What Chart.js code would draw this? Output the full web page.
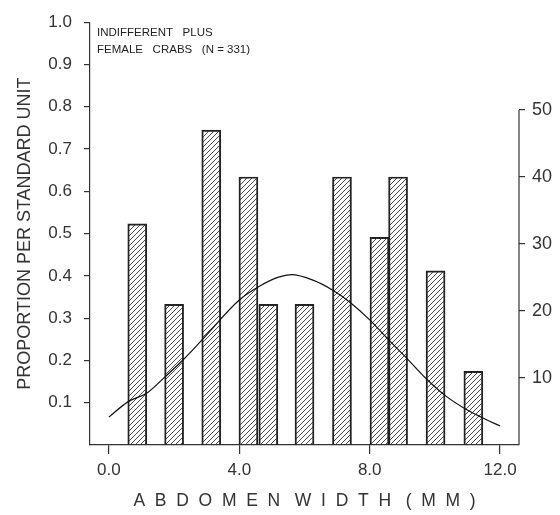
<!DOCTYPE html>
<html>
<head>
<meta charset="utf-8">
<script src="https://cdn.jsdelivr.net/npm/chart.js@4.4.1/dist/chart.umd.min.js"></script>
<style>
  body { margin: 0; background: #fff; }
  canvas { display: block; }
</style>
</head>
<body>
<canvas id="crabChart" width="560" height="515"></canvas>
<script>
// Abdomen width class centres (mm) and number of crabs in each class
const widthClasses = [0.87, 2.0, 3.14, 4.28, 4.89, 6.0, 7.15, 8.3, 8.87, 10.02, 11.18];
const crabCounts = [33, 21, 47, 40, 21, 21, 40, 31, 40, 26, 11];

// Fitted curve (mm, proportion per standard unit)
const curveX = [0.0, 0.58, 1.17, 1.72, 2.27, 2.85, 4.0, 4.63, 5.2, 5.6, 6.26, 6.87, 7.42, 8.0, 8.59, 9.14, 9.72, 10.3, 10.9, 11.47, 12.0];
const curveY = [0.066, 0.102, 0.123, 0.161, 0.201, 0.248, 0.343, 0.376, 0.397, 0.403, 0.39, 0.366, 0.336, 0.296, 0.248, 0.205, 0.158, 0.118, 0.087, 0.064, 0.045];

// Tick labels
const xTicks = [0, 4, 8, 12];
const leftTicks = [0.1, 0.2, 0.3, 0.4, 0.5, 0.6, 0.7, 0.8, 0.9, 1.0];
const rightTicks = [10, 20, 30, 40, 50];

const ink = '#333';
const font = '"Liberation Sans", Arial, sans-serif';

function hatch() {
    const c = document.createElement('canvas');
    c.width = 5;
    c.height = 5;
    const g = c.getContext('2d');
    g.strokeStyle = '#333';
    g.lineWidth = 0.9;
    g.beginPath();
    g.moveTo(0, 5); g.lineTo(5, 0);
    g.moveTo(-1, 1); g.lineTo(1, -1);
    g.moveTo(4, 6); g.lineTo(6, 4);
    g.stroke();
    return g.createPattern(c, 'repeat');
}

// right axis only runs up to 50, plus the note in the corner
const extras = {
    id: 'extras',
    afterDraw(chart) {
        const { ctx, chartArea, scales } = chart;
        const y2 = scales.y2;
        ctx.save();
        ctx.strokeStyle = ink;
        ctx.lineWidth = 1.2;
        ctx.beginPath();
        ctx.moveTo(chartArea.right, y2.getPixelForValue(0));
        ctx.lineTo(chartArea.right, y2.getPixelForValue(50));
        ctx.stroke();
        ctx.fillStyle = '#222';
        ctx.font = '11.5px ' + font;
        ctx.textBaseline = 'middle';
        ctx.fillText('INDIFFERENT   PLUS', chartArea.left + 7, chartArea.top + 11);
        ctx.fillText('FEMALE   CRABS   (N = 331)', chartArea.left + 7, chartArea.top + 28);
        ctx.restore();
    }
};

const ctx = document.getElementById('crabChart').getContext('2d');
const crabChart = new Chart(ctx, {
    data: {
        datasets: [{
            type: 'bar',
            data: widthClasses.map((x, i) => ({ x: x, y: crabCounts[i] })),
            yAxisID: 'y2',
            backgroundColor: hatch(),
            borderColor: '#222',
            borderWidth: 1.3,
            barThickness: 19,
            order: 2
        }, {
            type: 'line',
            data: curveX.map((x, i) => ({ x: x, y: curveY[i] })),
            yAxisID: 'y',
            borderColor: '#111',
            borderWidth: 1.2,
            pointRadius: 0,
            cubicInterpolationMode: 'monotone',
            order: 1
        }]
    },
    options: {
        responsive: false,
        animation: false,
        devicePixelRatio: 1,
        layout: { padding: { top: 22, left: 0, right: 0, bottom: 0 } },
        plugins: {
            legend: { display: false },
            tooltip: { enabled: false }
        },
        scales: {
            x: {
                type: 'linear',
                min: -0.58,
                max: 12.58,
                offset: false,
                afterBuildTicks: s => { s.ticks = xTicks.map(v => ({ value: v })); },
                afterFit: s => { s.height = 70; },
                ticks: {
                    callback: v => v.toFixed(1),
                    color: ink,
                    font: { family: font, size: 17 },
                    padding: 6,
                    maxRotation: 0
                },
                grid: { drawOnChartArea: false, offset: false, tickLength: 9, color: ink, lineWidth: 1.2 },
                border: { color: ink, width: 1.2 },
                title: {
                    display: true,
                    text: 'A  B  D  O  M  E  N   W  I  D  T  H   (  M  M  )',
                    color: ink,
                    font: { family: font, size: 17.5 },
                    padding: { top: 0, bottom: 3 }
                }
            },
            y: {
                position: 'left',
                min: 0,
                max: 1,
                afterBuildTicks: s => { s.ticks = leftTicks.map(v => ({ value: v })); },
                afterFit: s => { s.width = 90; },
                ticks: {
                    callback: v => v.toFixed(1),
                    color: ink,
                    font: { family: font, size: 17 },
                    padding: 12
                },
                grid: { drawOnChartArea: false, tickLength: 6, color: ink, lineWidth: 1.2 },
                border: { color: ink, width: 1.2 },
                title: {
                    display: true,
                    text: 'PROPORTION PER STANDARD UNIT',
                    color: ink,
                    font: { family: font, size: 18 },
                    padding: { top: 14, bottom: 0 }
                }
            },
            y2: {
                position: 'right',
                min: 0,
                max: 63.1,
                afterBuildTicks: s => { s.ticks = rightTicks.map(v => ({ value: v })); },
                afterFit: s => { s.width = 41; },
                ticks: {
                    color: ink,
                    font: { family: font, size: 18 },
                    padding: 7
                },
                grid: { drawOnChartArea: false, tickLength: 6, color: ink, lineWidth: 1.2 },
                border: { display: false }
            }
        }
    },
    plugins: [extras]
});
</script>
</body>
</html>
